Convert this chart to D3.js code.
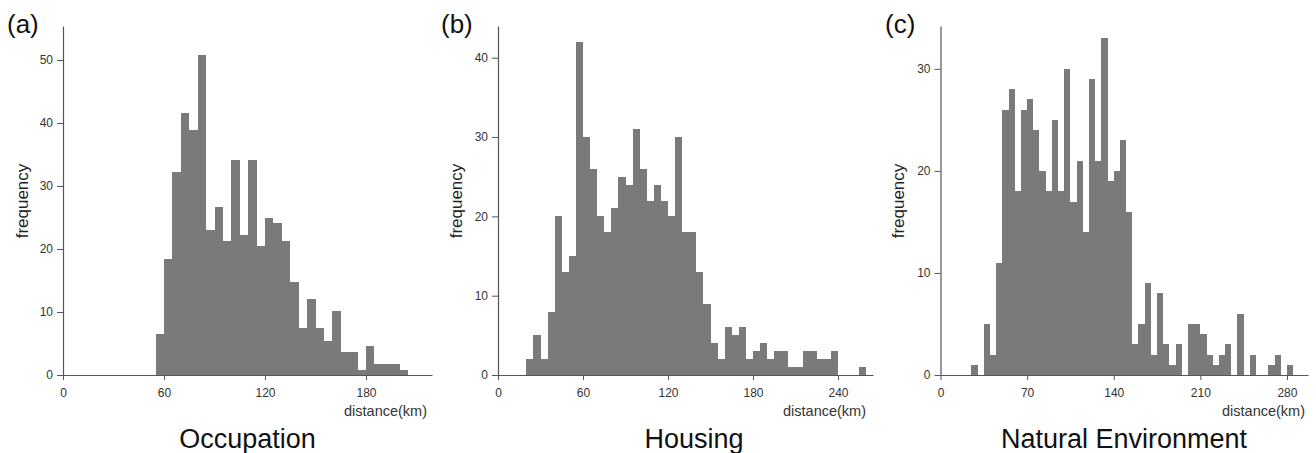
<!DOCTYPE html>
<html>
<head>
<meta charset="utf-8">
<script src="https://cdn.jsdelivr.net/npm/d3@7"></script>
<style>
  body { margin: 0; background: #fff; }
  svg { display: block; }
  text { font-family: "Liberation Sans", Arial, Helvetica, sans-serif; }
</style>
</head>
<body>
<svg id="chart" width="1316" height="453"></svg>
<script>
// ---------------- data ----------------
const binWidth = 5; // km

// (a) Occupation
const occupationBins = [55,60,65,70,75,80,85,90,95,100,105,110,115,120,125,130,135,140,145,150,155,160,165,170,175,180,185,190,195,200];
const occupationFreq = [6.5,18.4,32.3,41.6,38.9,50.8,23,26.7,21.2,34.2,22.2,34.2,20.4,24.9,24.1,21.2,14.7,7.4,12,7.4,5.4,10.2,3.7,3.7,0.8,4.6,1.8,1.8,1.8,0.8];
const occupationXTicks = [0,60,120,180];
const occupationYTicks = [0,10,20,30,40,50];

// (b) Housing
const housingBins = [20,25,30,35,40,45,50,55,60,65,70,75,80,85,90,95,100,105,110,115,120,125,130,135,140,145,150,155,160,165,170,175,180,185,190,195,200,205,210,215,220,225,230,235,240,245,250,255];
const housingFreq = [2,5,2,8,20,13,15,42,30,26,20,18,21,25,24,31,26,22,24,22,20,30,18,18,13,9,4,2,6,5,6,2,3,4,2,3,3,1,1,3,3,2,2,3,0,0,0,1];
const housingXTicks = [0,60,120,180,240];
const housingYTicks = [0,10,20,30,40];

// (c) Natural Environment
const naturalBins = [25,30,35,40,45,50,55,60,65,70,75,80,85,90,95,100,105,110,115,120,125,130,135,140,145,150,155,160,165,170,175,180,185,190,195,200,205,210,215,220,225,230,235,240,245,250,255,260,265,270,275,280];
const naturalFreq = [1,0,5,2,11,26,28,18,26,27,24,20,18,25,18,30,17,21,14,29,21,33,19,20,23,16,3,5,9,2,8,3,1,3,0,5,5,4,2,1,2,3,0,6,0,2,0,0,1,2,0,1];
const naturalXTicks = [0,70,140,210,280];
const naturalYTicks = [0,10,20,30];

const panelLetters = ["(a)", "(b)", "(c)"];
const panelTitles = ["Occupation", "Housing", "Natural Environment"];
const xAxisLabel = "distance(km)";
const yAxisLabel = "frequency";

// ---------------- layout ----------------
const yBottom = 375, yTop = 26;
const layout = [
  { x0: 63,    x1: 432,  xMax: 219.2, yMax: 55.4, letterX: 7,   titleX: 247.5, xlabRight: 427,  ylabX: 28 },
  { x0: 498,   x1: 873,  xMax: 264.7, yMax: 44.0, letterX: 441, titleX: 694,   xlabRight: 866,  ylabX: 462 },
  { x0: 940.5, x1: 1308, xMax: 297.0, yMax: 34.2, letterX: 885, titleX: 1124,  xlabRight: 1305, ylabX: 904 }
];
const panelData = [
  { bins: occupationBins, freq: occupationFreq, xTicks: occupationXTicks, yTicks: occupationYTicks },
  { bins: housingBins,    freq: housingFreq,    xTicks: housingXTicks,    yTicks: housingYTicks },
  { bins: naturalBins,    freq: naturalFreq,    xTicks: naturalXTicks,    yTicks: naturalYTicks }
];

const barColor = "#7a7a7a";
const axisColor = "#555";

const svg = d3.select("#chart");

panelData.forEach((pd, i) => {
  const L = layout[i];
  const x = d3.scaleLinear().domain([0, L.xMax]).range([L.x0, L.x1]);
  const y = d3.scaleLinear().domain([0, L.yMax]).range([yBottom, yTop]);
  const g = svg.append("g");

  // bars
  g.append("g").selectAll("rect")
    .data(pd.bins.map((b, k) => ({ b, v: pd.freq[k] })).filter(d => d.v > 0))
    .join("rect")
    .attr("x", d => x(d.b))
    .attr("width", d => x(d.b + binWidth) - x(d.b))
    .attr("y", d => y(d.v))
    .attr("height", d => y(0) - y(d.v))
    .attr("fill", barColor)
    .attr("shape-rendering", "crispEdges");

  // x axis
  const xa = g.append("g")
    .attr("transform", `translate(0,${yBottom})`)
    .call(d3.axisBottom(x).tickValues(pd.xTicks).tickSize(5).tickSizeOuter(0).tickPadding(8));
  // y axis
  const ya = g.append("g")
    .attr("transform", `translate(${L.x0},0)`)
    .call(d3.axisLeft(y).tickValues(pd.yTicks).tickSize(6).tickSizeOuter(0).tickPadding(4));

  [xa, ya].forEach(a => {
    a.select(".domain").attr("stroke", axisColor).attr("stroke-width", 1.2);
    a.selectAll(".tick line").attr("stroke", axisColor);
    a.selectAll(".tick text").attr("fill", "#333").attr("font-size", 12)
      .attr("font-family", "'Liberation Sans', Arial, sans-serif");
  });

  // axis labels
  g.append("text")
    .attr("x", L.xlabRight).attr("y", 415.5)
    .attr("text-anchor", "end")
    .attr("font-size", 14.5).attr("fill", "#333")
    .text(xAxisLabel);

  g.append("text")
    .attr("transform", `translate(${L.ylabX},201) rotate(-90)`)
    .attr("text-anchor", "middle")
    .attr("font-size", 17).attr("fill", "#222")
    .text(yAxisLabel);

  // panel letter
  g.append("text")
    .attr("x", L.letterX).attr("y", 33)
    .attr("font-size", 26).attr("fill", "#111")
    .text(panelLetters[i]);

  // title
  g.append("text")
    .attr("x", L.titleX).attr("y", 448)
    .attr("text-anchor", "middle")
    .attr("font-size", 27).attr("fill", "#111")
    .text(panelTitles[i]);
});
</script>
</body>
</html>
